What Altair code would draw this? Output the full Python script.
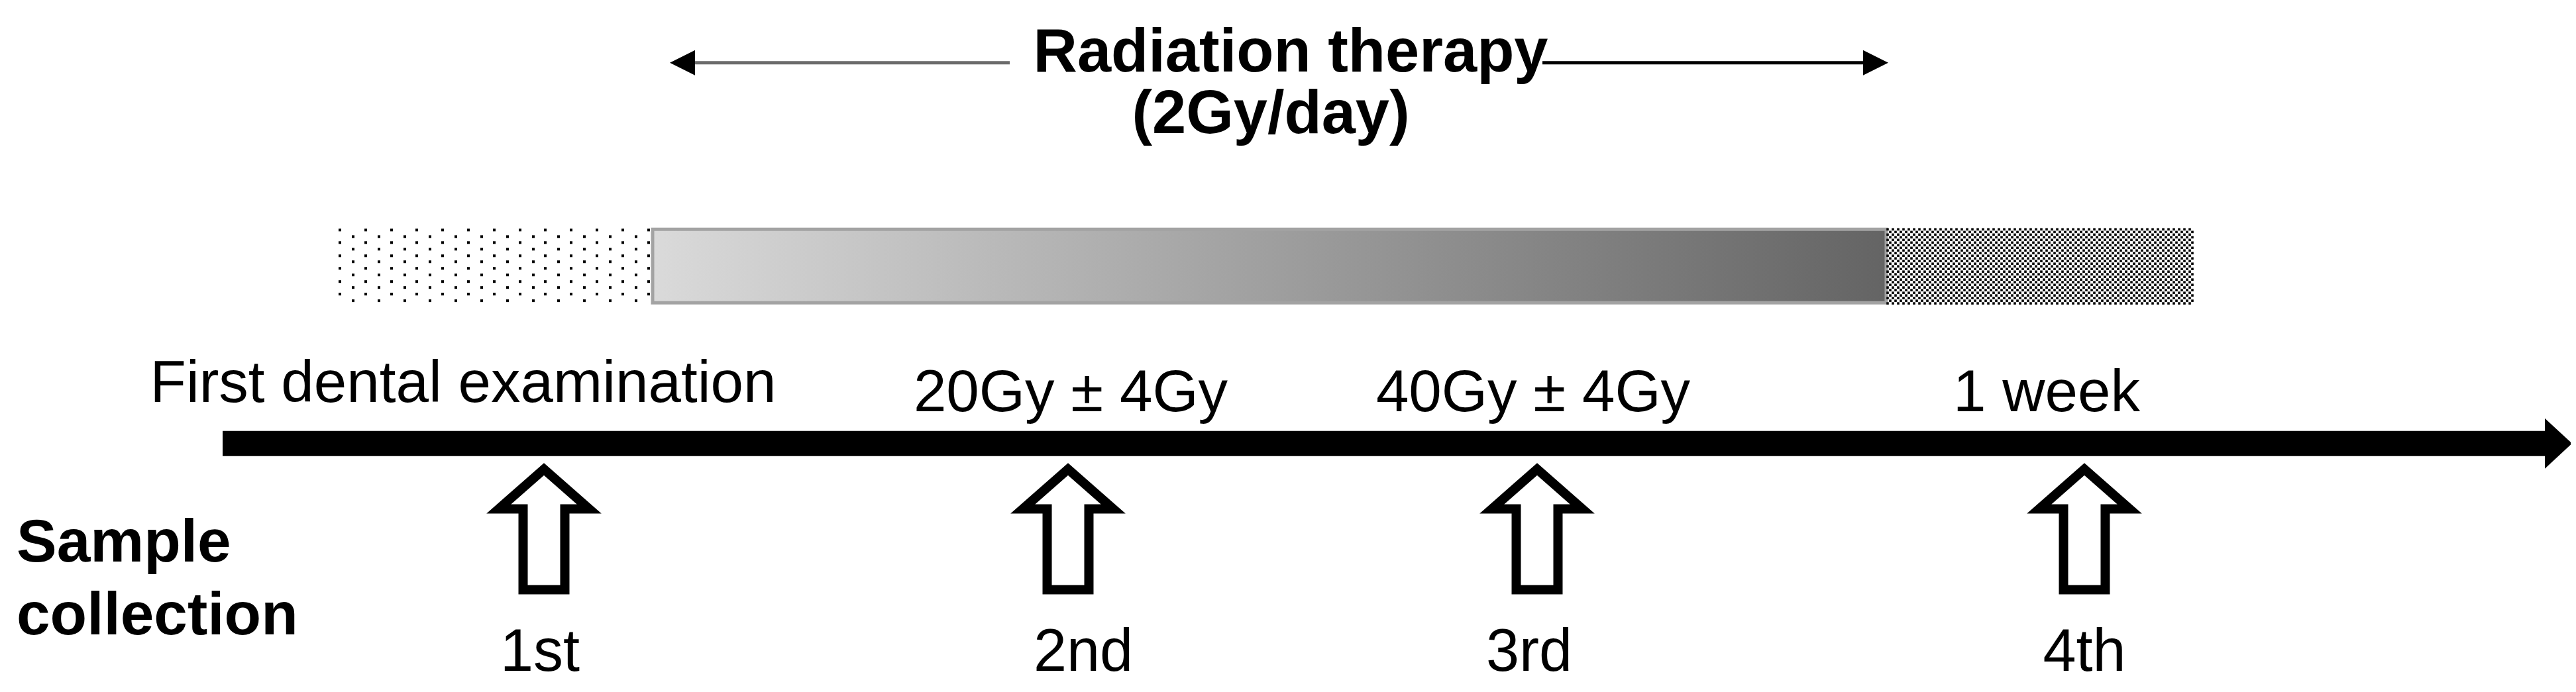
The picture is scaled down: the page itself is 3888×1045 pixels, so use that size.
import numpy as np
import pandas as pd
import altair as alt

# ── data (timeline units ~ picture pixels) ──────────────────────────────
PHASES      = ["before", "radiation", "after"]
PHASE_START = [509, 985, 2847]
PHASE_END   = [985, 2847, 3311]

THERAPY_TITLE = ["Radiation therapy", "(2Gy/day)"]
THERAPY_SPAN  = [1012, 2850]

EVENT_LABELS = ["First dental examination", "20Gy ± 4Gy", "40Gy ± 4Gy", "1 week"]
EVENT_X      = [699, 1616, 2314, 3089]
EVENT_Y      = [608, 622, 622, 622]

SAMPLES       = ["1st", "2nd", "3rd", "4th"]
SAMPLE_X      = [821, 1612, 2320, 3146]
SAMPLE_TEXT_X = [815, 1635, 2308, 3146]

ROW_TITLE = ["Sample", "collection"]

TIMELINE = [336, 3882]

FONT = "Liberation Sans"
INK = "#000000"

X = alt.Scale(domain=[8, 3880], nice=False, zero=False)
Y = alt.Scale(domain=[8, 1037], reverse=True, nice=False, zero=False)


def xq(field):
    return alt.X(field, type="quantitative", scale=X, axis=None)


def yq(field):
    return alt.Y(field, type="quantitative", scale=Y, axis=None)


# ── top double arrow + title ───────────────────────────────────────────
arrow_lines = pd.DataFrame({
    "x": [THERAPY_SPAN[0] + 28, 2328],
    "x2": [1524, THERAPY_SPAN[1] - 30],
    "y": [95, 95],
    "part": ["left", "right"],
})
top_lines = alt.Chart(arrow_lines).mark_rule(strokeWidth=5).encode(
    x=xq("x"), x2="x2", y=yq("y"),
    color=alt.Color("part:N", scale=alt.Scale(domain=["left", "right"],
                                              range=["#6b6b6b", INK]), legend=None),
)

heads = pd.DataFrame({"x": [THERAPY_SPAN[0] + 18, THERAPY_SPAN[1] - 19],
                      "y": [95, 95], "dir": ["l", "r"]})
head_l = alt.Chart(heads[heads["dir"] == "l"]).mark_point(
    shape="M-1,0 L1,-1 L1,1 Z", size=1444, filled=True, color=INK, opacity=1,
).encode(x=xq("x"), y=yq("y"))
head_r = alt.Chart(heads[heads["dir"] == "r"]).mark_point(
    shape="M1,0 L-1,-1 L-1,1 Z", size=1444, filled=True, color=INK, opacity=1,
).encode(x=xq("x"), y=yq("y"))

title_df = pd.DataFrame({"text": THERAPY_TITLE, "x": [1948, 1918], "y": [108, 201]})
title = alt.Chart(title_df).mark_text(
    font=FONT, fontSize=92, fontWeight="bold", align="center", baseline="alphabetic", color=INK,
).encode(x=xq("x"), y=yq("y"), text="text:N")

# ── phase bar ──────────────────────────────────────────────────────────
phase_df = pd.DataFrame({"phase": PHASES, "x": PHASE_START, "x2": PHASE_END})
bar_top, bar_bottom = 345, 460

grad_df = phase_df[phase_df["phase"] == "radiation"].assign(y=bar_top + 2, y2=bar_bottom - 2)
grad = alt.Chart(grad_df).mark_rect(
    fill=alt.LinearGradient(
        gradient="linear",
        stops=[alt.GradientStop(color="#dadada", offset=0),
               alt.GradientStop(color="#646464", offset=1)],
        x1=0, x2=1, y1=0, y2=0,
    ),
    stroke="#a3a3a3", strokeWidth=5,
).encode(x=xq("x"), x2="x2", y=yq("y"), y2="y2")

# dotted texture before therapy
before = phase_df.iloc[0]
dots = []
for j in range(12):
    y0 = round(bar_top + 3 + 9.7 * j)
    start = before["x"] + 4 if j % 2 == 0 else before["x"] + 24
    n = 13 if j % 2 == 0 else 12
    for k in range(n):
        dots.append({"x": round(start + 38.8 * k), "y": y0})
dot_layer = alt.Chart(pd.DataFrame(dots)).mark_square(
    size=16, color=INK, opacity=1, strokeWidth=0,
).encode(x=xq("x"), y=yq("y"))

# checker texture after therapy
after = phase_df.iloc[2]
cells = []
for i, cx in enumerate(np.arange(after["x"], after["x2"], 4)):
    for j, cy in enumerate(np.arange(bar_top, bar_bottom + 1, 4)):
        if (i + j) % 2 == 0:
            cells.append({"x": int(cx) + 2, "y": int(cy) + 2})
check_layer = alt.Chart(pd.DataFrame(cells)).mark_square(
    size=13, color=INK, opacity=1, strokeWidth=0,
).encode(x=xq("x"), y=yq("y"))

# ── main timeline arrow ────────────────────────────────────────────────
axis_df = pd.DataFrame({"x": [TIMELINE[0]], "x2": [TIMELINE[1] - 38], "y": [671]})
axis_line = alt.Chart(axis_df).mark_rule(strokeWidth=38, color=INK).encode(
    x=xq("x"), x2="x2", y=yq("y"))
tip_df = pd.DataFrame({"x": [TIMELINE[1] - 20.5], "y": [671]})
axis_tip = alt.Chart(tip_df).mark_point(
    shape="M0.54,0 L-0.54,-1 L-0.54,1 Z", size=5776, filled=True, color=INK, opacity=1,
).encode(x=xq("x"), y=yq("y"))

event_df = pd.DataFrame({"text": EVENT_LABELS, "x": EVENT_X, "y": EVENT_Y})
events = alt.Chart(event_df).mark_text(
    font=FONT, fontSize=89, align="center", baseline="alphabetic", color=INK,
).encode(x=xq("x"), y=yq("y"), text="text:N")

# ── sample collection arrows ───────────────────────────────────────────
sample_df = pd.DataFrame({"label": SAMPLES, "x": SAMPLE_X, "tx": SAMPLE_TEXT_X,
                          "y": [801] * 4, "ty": [1015] * 4})
up_arrows = alt.Chart(sample_df).mark_point(
    shape="M0,-1 L0.75,-0.34 L0.346,-0.34 L0.346,1 L-0.346,1 L-0.346,-0.34 L-0.75,-0.34 Z",
    size=33124, filled=True, fill="white", stroke=INK, strokeWidth=14, opacity=1,
    strokeOpacity=1, fillOpacity=1,
).encode(x=xq("x"), y=yq("y"))

sample_text = alt.Chart(sample_df).mark_text(
    font=FONT, fontSize=90, align="center", baseline="alphabetic", color=INK,
).encode(x=xq("tx"), y=yq("ty"), text="label:N")

row_df = pd.DataFrame({"text": ROW_TITLE, "x": [25, 25], "y": [850, 960]})
row_title = alt.Chart(row_df).mark_text(
    font=FONT, fontSize=91, fontWeight="bold", align="left", baseline="alphabetic", color=INK,
).encode(x=xq("x"), y=yq("y"), text="text:N")

chart = (
    alt.layer(top_lines, head_l, head_r, title, grad, dot_layer, check_layer,
              axis_line, axis_tip, events, up_arrows, sample_text, row_title)
    .properties(width=3872, height=1027, padding=0, autosize="none", background="white")
    .configure_view(strokeWidth=0)
)

chart.save("out.html", embed_options={"renderer": "svg", "actions": False})
